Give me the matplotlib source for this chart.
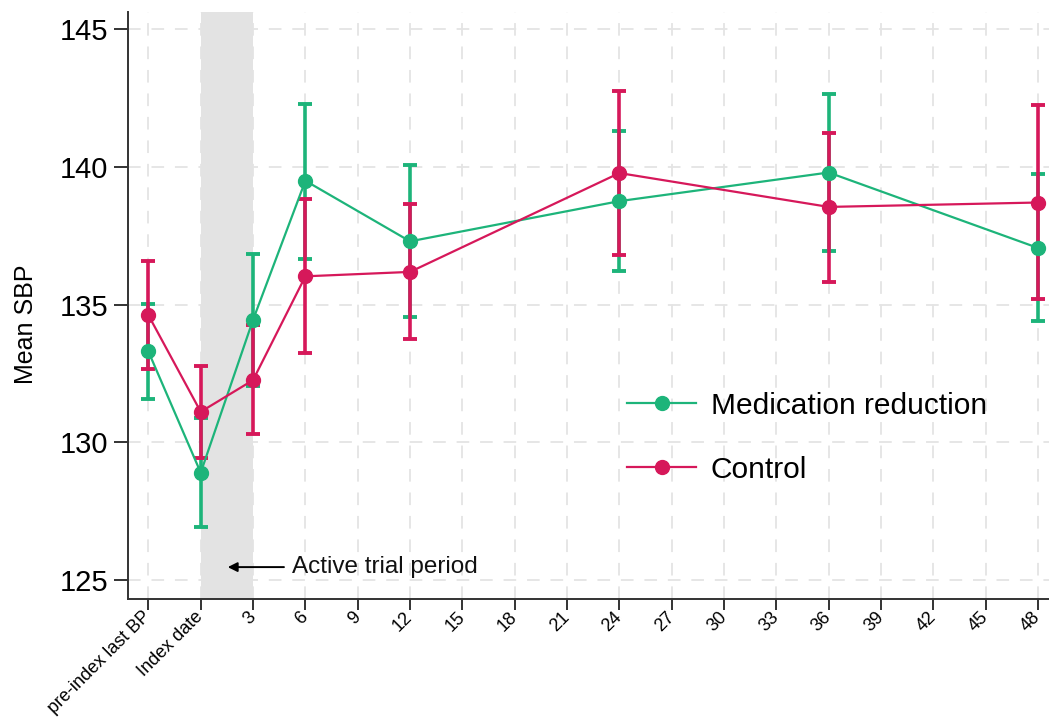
import matplotlib
matplotlib.use("Agg")
import matplotlib.pyplot as plt

# Visit times in months (pre-index last BP shown at -3, index date at 0)
months = [-3, 0, 3, 6, 12, 24, 36, 48]

tick_positions = [-3, 0, 3, 6, 9, 12, 15, 18, 21, 24, 27, 30, 33, 36, 39, 42, 45, 48]
tick_labels = ["pre-index last BP", "Index date", "3", "6", "9", "12", "15", "18",
               "21", "24", "27", "30", "33", "36", "39", "42", "45", "48"]

# Medication reduction group: mean SBP with 95% CI
med_mean = [133.3, 128.9, 134.45, 139.5, 137.3, 138.76, 139.8, 137.06]
med_low = [131.57, 126.94, 132.05, 136.65, 134.56, 136.23, 136.94, 134.40]
med_high = [135.04, 130.87, 136.83, 142.28, 140.09, 141.30, 142.64, 139.76]

# Control group: mean SBP with 95% CI
ctl_mean = [134.62, 131.11, 132.26, 136.03, 136.19, 139.78, 138.55, 138.71]
ctl_low = [132.68, 129.42, 130.30, 133.23, 133.75, 136.82, 135.83, 135.19]
ctl_high = [136.58, 132.78, 134.26, 138.83, 138.65, 142.75, 141.25, 142.24]

GREEN = "#1db47a"
RED = "#d6185a"

plt.rcParams["font.family"] = ["Liberation Sans", "DejaVu Sans"]

fig = plt.figure(figsize=(10.49, 7.2), dpi=100)
ax = fig.add_axes([0.122, 0.168, 0.878, 0.815])

# Active trial period shading
ax.axvspan(0, 3, color="#e3e3e3", zorder=0, lw=0)

def draw_ci(mean, low, high, color):
    yerr = [[m - l for m, l in zip(mean, low)], [h - m for m, h in zip(mean, high)]]
    ax.errorbar(months, mean, yerr=yerr, fmt="none", ecolor=color,
                elinewidth=2.6, capsize=5, capthick=2.8, zorder=3)

draw_ci(med_mean, med_low, med_high, GREEN)
draw_ci(ctl_mean, ctl_low, ctl_high, RED)

ax.plot(months, med_mean, color=GREEN, lw=1.6, marker="o", markersize=10,
        label="Medication reduction", zorder=4)
ax.plot(months, ctl_mean, color=RED, lw=1.6, marker="o", markersize=10,
        label="Control", zorder=4)

ax.annotate("Active trial period", xy=(1.55, 125.47), xytext=(5.25, 125.47),
            fontsize=17.5, va="center", ha="left", color="#111111",
            arrowprops=dict(arrowstyle="-|>", color="black", lw=1.4,
                            mutation_scale=14, shrinkA=4, shrinkB=0))

ax.set_xlim(-4.17, 48.63)
ax.set_ylim(124.31, 145.62)
ax.set_yticks([125, 130, 135, 140, 145])
ax.set_xticks(tick_positions)
ax.set_xticklabels(tick_labels, rotation=45, ha="right", va="center",
                   rotation_mode="anchor", fontsize=13)
ax.tick_params(axis="y", labelsize=21, length=10, width=1.4, color="#333333", pad=4)
ax.tick_params(axis="x", length=8, width=1.4, color="#333333", pad=3)
ax.set_ylabel("Mean SBP", fontsize=18)
ax.yaxis.set_label_coords(-0.098, 0.468)

ax.grid(True, color="#e4e4e4", lw=1.3, linestyle=(0, (7, 6)))
ax.set_axisbelow(True)

for side in ["top", "right"]:
    ax.spines[side].set_visible(False)
for side in ["left", "bottom"]:
    ax.spines[side].set_color("#333333")
    ax.spines[side].set_linewidth(1.4)

ax.legend(loc="center left", bbox_to_anchor=(0.542, 0.275), frameon=False,
          fontsize=21.5, handlelength=2.3, handletextpad=0.5, labelspacing=1.2,
          borderpad=0, borderaxespad=0, numpoints=1)

fig.savefig("out.png", dpi=100, facecolor="white")
